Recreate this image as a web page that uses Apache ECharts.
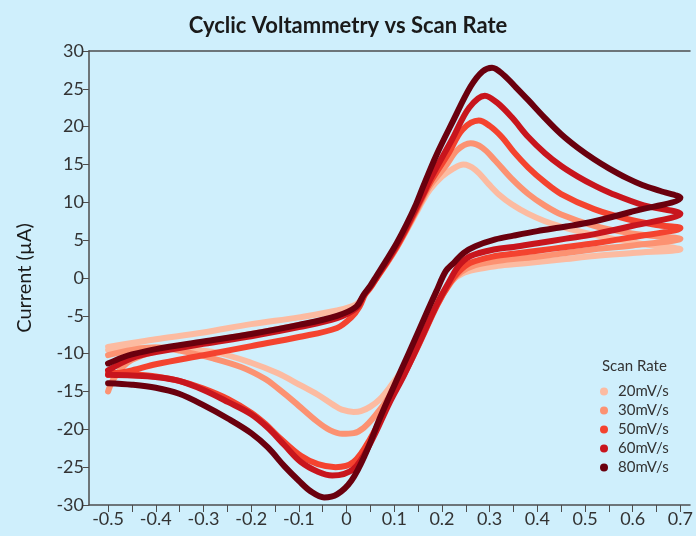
<!DOCTYPE html>
<html lang="en" style="height: 100%">

<head>
  <meta charset="utf-8">
</head>

<body style="height: 100%; margin: 0; background: #cfeffc">
  <div id="container" style="width: 696px; height: 536px"></div>

  <script type="text/javascript" src="https://fastly.jsdelivr.net/npm/echarts@6/dist/echarts.min.js"></script>

  <script type="text/javascript">
    // potential (V) vs current (uA), forward scan then reverse scan
    var rates = ['20mV/s', '30mV/s', '50mV/s', '60mV/s', '80mV/s'];
    var colors = ['#fcbba1', '#fc9272', '#f4432f', '#c8151d', '#6a000e'];

    var fwd20 = [[-0.5,-9.1],[-0.45,-8.6],[-0.4,-8.1],[-0.3,-7.2],[-0.2,-6.1],[-0.1,-5.2],[-0.02,-4.3],[0.02,-3.5],[0.036,-2.4],[0.05,-1.3],[0.063,0],[0.085,2.0],[0.105,4.0],[0.125,6.2],[0.146,8.6],[0.16,10.2],[0.175,11.7],[0.2,13.4],[0.222,14.4],[0.245,15.0],[0.27,14.3],[0.298,12.4],[0.32,11.0],[0.347,9.7],[0.38,8.5],[0.416,7.5],[0.45,6.8],[0.485,6.2],[0.55,5.3],[0.62,4.5],[0.7,3.8]];
    var rev20 = [[0.7,3.8],[0.6,3.3],[0.52,2.9],[0.46,2.5],[0.4,2.1],[0.35,1.8],[0.312,1.55],[0.27,1.1],[0.243,0.6],[0.22,-0.4],[0.19,-3.1],[0.15,-8.2],[0.12,-11.8],[0.09,-14.5],[0.07,-16.0],[0.05,-17.0],[0.03,-17.6],[0.015,-17.7],[-0.01,-17.4],[-0.027,-16.8],[-0.061,-15.4],[-0.096,-14.2],[-0.144,-12.6],[-0.2,-11.2],[-0.27,-9.9],[-0.35,-9.3],[-0.4,-9.2],[-0.45,-9.3],[-0.5,-9.5]];

    var fwd30 = [[-0.5,-15.0],[-0.49,-13.5],[-0.47,-11.8],[-0.45,-10.8],[-0.4,-9.7],[-0.3,-8.5],[-0.2,-7.4],[-0.1,-6.2],[-0.02,-5.1],[0.02,-3.9],[0.036,-2.4],[0.05,-1.3],[0.063,0],[0.085,2.0],[0.105,4.0],[0.125,6.3],[0.146,8.8],[0.16,10.5],[0.175,12.2],[0.208,14.8],[0.232,16.9],[0.26,17.8],[0.285,17.2],[0.312,15.5],[0.345,13.2],[0.381,11.1],[0.415,9.6],[0.45,8.4],[0.519,6.9],[0.588,6.0],[0.65,5.5],[0.7,5.2]];
    var rev30 = [[0.7,5.2],[0.6,4.3],[0.52,3.8],[0.46,3.3],[0.4,2.8],[0.35,2.5],[0.312,2.2],[0.27,1.7],[0.24,0.8],[0.22,-0.5],[0.19,-3.5],[0.15,-8.8],[0.12,-12.5],[0.09,-15.6],[0.06,-18.2],[0.036,-19.8],[0.015,-20.5],[-0.009,-20.6],[-0.035,-20.1],[-0.061,-19.0],[-0.109,-16.4],[-0.144,-14.6],[-0.169,-13.4],[-0.22,-11.8],[-0.282,-10.6],[-0.35,-9.6],[-0.4,-9.2],[-0.45,-9.5],[-0.5,-10.2]];

    var fwd50 = [[-0.5,-12.8],[-0.45,-12.2],[-0.4,-11.4],[-0.3,-10.2],[-0.2,-9.0],[-0.1,-7.8],[-0.02,-6.6],[0.01,-5.2],[0.027,-3.8],[0.04,-2.0],[0.05,-1.2],[0.063,0],[0.085,2.1],[0.105,4.1],[0.125,6.4],[0.146,9.0],[0.16,10.8],[0.175,12.6],[0.215,16.6],[0.243,19.6],[0.277,20.8],[0.3,20.1],[0.326,18.6],[0.35,16.7],[0.381,14.6],[0.415,12.7],[0.45,11.1],[0.519,9.1],[0.588,7.8],[0.65,7.0],[0.7,6.6]];
    var rev50 = [[0.7,6.6],[0.6,5.4],[0.52,4.6],[0.46,4.1],[0.4,3.6],[0.35,3.2],[0.312,2.9],[0.26,2.0],[0.235,0.8],[0.215,-0.8],[0.19,-3.6],[0.15,-9.0],[0.12,-12.8],[0.09,-16.2],[0.05,-21.2],[0.015,-24.3],[-0.023,-25.0],[-0.06,-24.6],[-0.096,-23.5],[-0.144,-20.9],[-0.17,-19.3],[-0.2,-17.8],[-0.248,-16.0],[-0.3,-14.6],[-0.351,-13.6],[-0.4,-13.0],[-0.45,-12.7],[-0.5,-12.5]];

    var fwd60 = [[-0.5,-12.2],[-0.45,-10.6],[-0.4,-9.8],[-0.3,-8.7],[-0.2,-7.7],[-0.1,-6.5],[-0.02,-5.3],[0.02,-4.0],[0.036,-2.3],[0.05,-1.2],[0.063,0.1],[0.085,2.2],[0.105,4.3],[0.125,6.6],[0.146,9.3],[0.16,11.0],[0.175,13.0],[0.222,18.4],[0.257,22.5],[0.29,24.1],[0.315,23.2],[0.347,21.2],[0.38,18.7],[0.416,16.5],[0.45,14.8],[0.485,13.4],[0.52,12.2],[0.554,11.2],[0.623,9.6],[0.7,8.5]];
    var rev60 = [[0.7,8.5],[0.6,6.9],[0.52,5.8],[0.46,5.2],[0.4,4.6],[0.35,4.1],[0.312,3.8],[0.26,2.9],[0.235,1.6],[0.215,-0.5],[0.19,-3.4],[0.15,-8.9],[0.12,-12.9],[0.09,-16.5],[0.05,-21.8],[0.015,-25.2],[-0.03,-26.1],[-0.06,-25.6],[-0.096,-24.3],[-0.13,-22.1],[-0.165,-19.8],[-0.2,-18.0],[-0.248,-16.4],[-0.3,-14.8],[-0.351,-13.6],[-0.4,-13.1],[-0.45,-12.9],[-0.5,-12.8]];

    var fwd80 = [[-0.5,-11.3],[-0.47,-10.5],[-0.45,-10.1],[-0.4,-9.4],[-0.3,-8.4],[-0.2,-7.4],[-0.1,-6.2],[-0.02,-5.0],[0.02,-3.8],[0.036,-2.2],[0.05,-1.0],[0.063,0.3],[0.085,2.5],[0.105,4.6],[0.125,7.0],[0.146,9.8],[0.16,12.0],[0.188,16.2],[0.222,20.6],[0.26,25.3],[0.285,27.3],[0.305,27.8],[0.33,26.8],[0.355,25.2],[0.381,23.5],[0.415,21.2],[0.45,19.0],[0.485,17.2],[0.519,15.7],[0.55,14.5],[0.588,13.2],[0.62,12.3],[0.658,11.5],[0.7,10.6]];
    var rev80 = [[0.7,10.6],[0.6,8.8],[0.52,7.5],[0.46,6.8],[0.4,6.2],[0.35,5.6],[0.312,5.1],[0.27,4.2],[0.245,3.3],[0.225,2.0],[0.208,0.9],[0.188,-1.8],[0.17,-4.3],[0.13,-10.0],[0.1,-14.2],[0.07,-18.5],[0.04,-23.2],[0.01,-26.8],[-0.02,-28.6],[-0.047,-29.0],[-0.075,-28.2],[-0.1,-26.8],[-0.13,-24.9],[-0.165,-22.4],[-0.2,-20.5],[-0.248,-18.6],[-0.3,-16.8],[-0.351,-15.3],[-0.4,-14.5],[-0.45,-14.1],[-0.5,-13.9]];

    var xLabels = [-0.5, -0.4, -0.3, -0.2, -0.1, 0, 0.1, 0.2, 0.3, 0.4, 0.5, 0.6, 0.7];
    var xTicks = [-0.5, -0.45, -0.4, -0.35, -0.3, -0.25, -0.2, -0.15, -0.1, -0.05, 0, 0.05, 0.1, 0.15, 0.2, 0.25, 0.3, 0.35, 0.4, 0.45, 0.5, 0.55, 0.6, 0.65, 0.7];

    var loops = [fwd20.concat(rev20), fwd30.concat(rev30), fwd50.concat(rev50), fwd60.concat(rev60), fwd80.concat(rev80)];

    var dom = document.getElementById('container');
    var myChart = echarts.init(dom, null, { renderer: 'canvas' });

    var font = 'Lato, "Noto Sans", sans-serif';
    var axisColor = '#4d4d4d';

    var option = {
      backgroundColor: '#cfeffc',
      animation: false,
      title: [{
        text: 'Cyclic Voltammetry vs Scan Rate',
        left: 'center',
        top: 10,
        textStyle: { fontFamily: font, fontSize: 22, fontWeight: 'bold', color: '#1a1a1a' }
      }, {
        text: 'Scan Rate',
        left: 597,
        top: 354,
        textStyle: { fontFamily: font, fontSize: 15, fontWeight: 'normal', color: '#333' }
      }],
      legend: {
        orient: 'vertical',
        left: 595,
        top: 379,
        icon: 'circle',
        itemWidth: 18,
        itemHeight: 8,
        itemGap: 4,
        textStyle: { fontFamily: font, fontSize: 15, color: '#333' },
        data: rates
      },
      grid: { left: 89, right: 0, top: 51, bottom: 31 },
      xAxis: [{
        type: 'value',
        min: -0.54,
        max: 0.72,
        axisLine: { onZero: false, lineStyle: { color: axisColor, width: 1.5 } },
        axisTick: { show: true, length: 7, customValues: xTicks, lineStyle: { color: axisColor } },
        axisLabel: {
          customValues: xLabels,
          margin: 5,
          fontFamily: font,
          fontSize: 18,
          color: '#333',
          formatter: function (v) { return String(+v.toFixed(2)); }
        },
        splitLine: { show: false }
      }, {
        type: 'value',
        position: 'top',
        min: -0.54,
        max: 0.72,
        axisLine: { show: true, onZero: false, lineStyle: { color: axisColor, width: 1.5 } },
        axisTick: { show: false },
        axisLabel: { show: false },
        splitLine: { show: false }
      }],
      yAxis: {
        type: 'value',
        min: -30,
        max: 30,
        interval: 5,
        name: 'Current (µA)',
        nameLocation: 'middle',
        nameGap: 54,
        nameTextStyle: { fontFamily: font, fontSize: 20, color: '#1a1a1a' },
        axisLine: { show: true, onZero: false, lineStyle: { color: axisColor, width: 1.5 } },
        axisTick: { show: true, length: 6, lineStyle: { color: axisColor } },
        axisLabel: { fontFamily: font, fontSize: 18, color: '#333', margin: 5 },
        splitLine: { show: false }
      },
      series: rates.map(function (name, i) {
        return {
          name: name,
          type: 'line',
          data: loops[i],
          showSymbol: false,
          smooth: 0.35,
          color: colors[i],
          lineStyle: { width: 6, color: colors[i], cap: 'round', join: 'round' }
        };
      })
    };

    myChart.setOption(option);
    window.addEventListener('resize', myChart.resize);
  </script>
</body>

</html>
